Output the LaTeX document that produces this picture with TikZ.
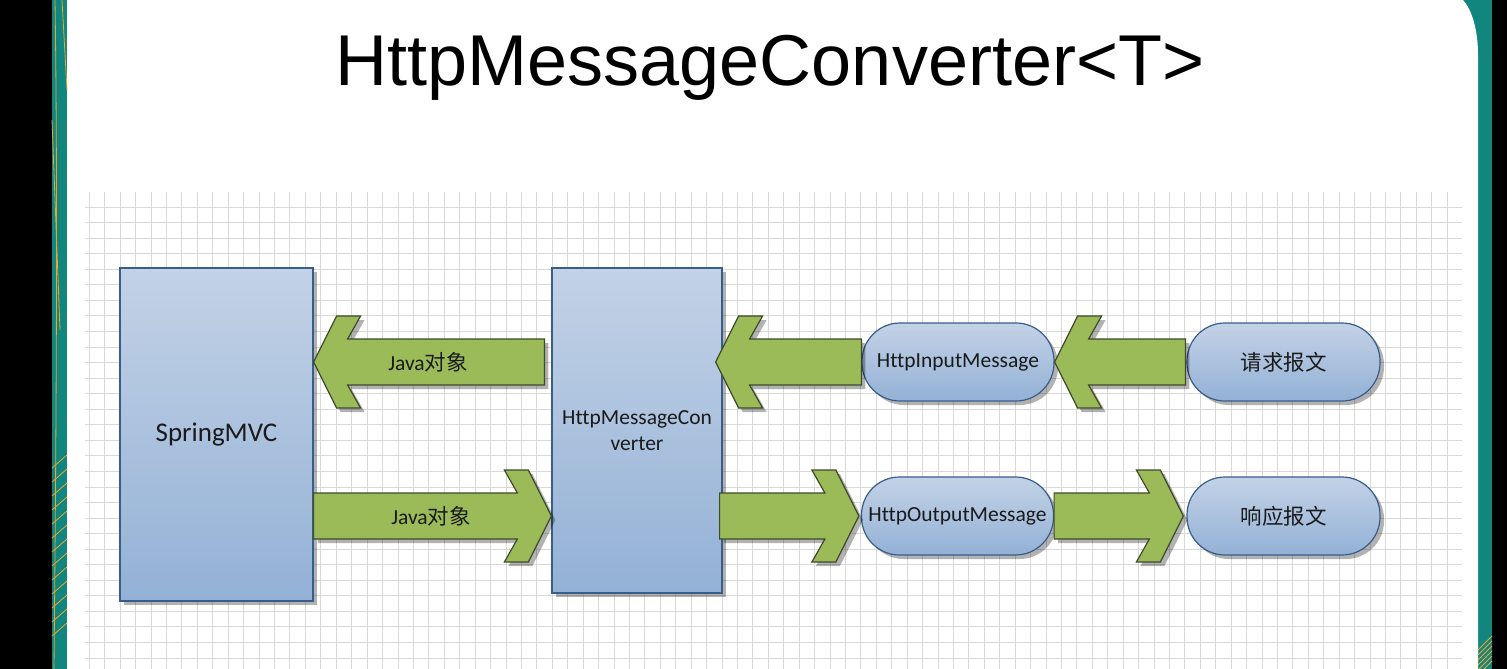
\documentclass[tikz,border=0pt]{standalone}
\usepackage{fontspec}
\setmainfont{Carlito}[Ligatures=NoCommon]
\newfontfamily\titlefont{Liberation Sans}
\newfontfamily\cjk{Noto Sans CJK SC}
\usepackage{tikz}
\usetikzlibrary{calc,shadows}

\definecolor{boxtop}{HTML}{C3D2E6}
\definecolor{boxbottom}{HTML}{93B1D6}
\definecolor{boxedge}{HTML}{385D8A}
\definecolor{arrowgreen}{HTML}{9BBB59}
\definecolor{arrowedge}{HTML}{3E4A2A}
\definecolor{gridgray}{HTML}{D9D9D9}
\definecolor{teal}{HTML}{10867F}
\definecolor{deco}{HTML}{F2A52A}
\definecolor{textdark}{HTML}{1A1A1A}

\tikzset{
  box/.style={draw=boxedge, line width=1.2pt, top color=boxtop, bottom color=boxbottom,
    drop shadow={shadow xshift=4pt, shadow yshift=-4pt, fill=black, opacity=0.3},
    font=\fontsize{21.5}{26}\selectfont, text=textdark, align=center, inner sep=0pt},
  pill/.style={box, rounded corners=38pt, minimum width=192pt, minimum height=78pt},
  lbl/.style={font=\fontsize{21.5}{26}\selectfont, text=textdark},
  fatarrow/.style={draw=arrowedge, fill=arrowgreen, line width=1.2pt, line join=miter,
    drop shadow={shadow xshift=4pt, shadow yshift=-4pt, fill=black, opacity=0.3},
    to path={let \p1=(\tikztostart), \p2=(\tikztotarget),
      \n1={ifthenelse(\x2>\x1,1,-1)} in
      (\x1,\y1+23pt) -- (\x2-\n1*34pt,\y1+23pt) -- (\x2-\n1*47pt,\y1+46pt)
      -- (\x2-\n1*23pt,\y1+46pt) -- (\x2,\y1) -- (\x2-\n1*23pt,\y1-46pt)
      -- (\x2-\n1*47pt,\y1-46pt) -- (\x2-\n1*34pt,\y1-23pt) -- (\x1,\y1-23pt) -- cycle}}
}

\begin{document}
\begin{tikzpicture}[x=1pt, y=-1pt]
  \useasboundingbox (0,0) rectangle (1507,669);

  % slide frame
  \fill[black] (0,0) rectangle (1507,669);
  \fill[teal] (52,0) rectangle (1492,669);
  \fill[white] (67,669) -- (67,0) -- (1463,0) .. controls (1472,10) and (1478,30) .. (1478,55) -- (1478,669) -- cycle;
  \draw[deco, line width=0.8pt] (55,0) .. controls (58,200) and (56,450) .. (54,669);
  \draw[deco, line width=0.8pt] (62,0) -- (67,90);
  \draw[deco, line width=0.8pt] (52,120) -- (60,330);
  \foreach \k in {0,...,12}
    \draw[deco, line width=0.8pt] (52,468+14*\k) -- (67,455+14*\k);
  \foreach \k in {0,...,5}
    \draw[deco, line width=1pt] (1478,650+5*\k) -- (1492,636+5*\k);

  % grid
  \foreach \i in {0,...,88}
    \draw[gridgray, line width=0.8pt] (89.3+15.43*\i,192) -- (89.3+15.43*\i,669);
  \foreach \j in {0,...,29}
    \draw[gridgray, line width=0.8pt] (85,207+15.55*\j) -- (1462,207+15.55*\j);

  % title
  \node[font=\titlefont\fontsize{72}{80}\selectfont, anchor=base, inner sep=0pt] (title) at (770,85) {HttpMessageConverter<T>};

  % boxes
  \node[box, minimum width=193pt, minimum height=333pt, font=\fontsize{27}{30}\selectfont] (spring) at (216.5,434.5) {SpringMVC};
  \node[box, minimum width=170pt, minimum height=325pt] (conv) at (637,430.5) {HttpMessageCon\\verter};
  \node[pill] (inmsg) at (958,362) {HttpInputMessage};
  \node[pill] (outmsg) at (957.5,516) {HttpOutputMessage};
  \node[pill, minimum width=193pt] (req) at (1283.5,362) {\cjk 请求报文};
  \node[pill, minimum width=193pt] (resp) at (1283.5,516) {\cjk 响应报文};

  % arrows
  \draw[fatarrow] ($(conv.west |- inmsg)+(-7pt,0)$) to (spring.east |- inmsg);
  \draw[fatarrow] (spring.east |- outmsg) to (conv.west |- outmsg);
  \draw[fatarrow] (inmsg.west) to ($(conv.east |- inmsg)+(-7pt,0)$);
  \draw[fatarrow] ($(conv.east |- outmsg)+(-3pt,0)$) to ($(outmsg.west)+(-2pt,0)$);
  \draw[fatarrow] ($(req.west)+(-1pt,0)$) to (inmsg.east);
  \draw[fatarrow] (outmsg.east) to ($(resp.west)+(-3pt,0)$);

  \node[lbl] (java1) at (428,362) {Java{\cjk 对象}};
  \node[lbl] (java2) at (431,516) {Java{\cjk 对象}};
\end{tikzpicture}
\end{document}
